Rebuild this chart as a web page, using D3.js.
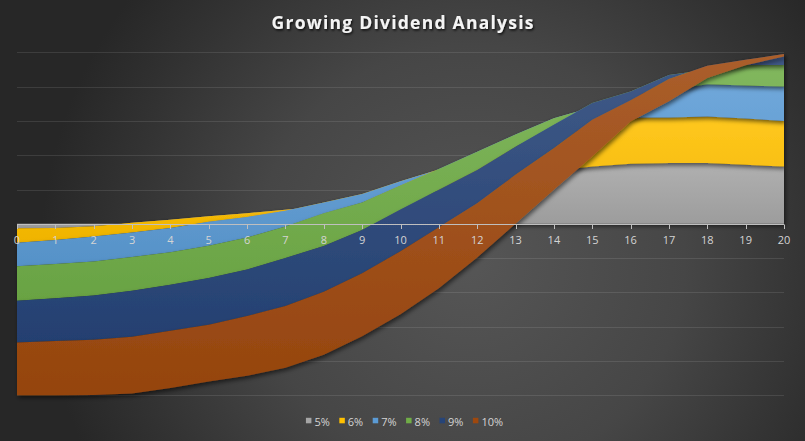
<!DOCTYPE html>
<html>
<head>
<meta charset="utf-8">
<script src="https://cdn.jsdelivr.net/npm/d3@7"></script>
<style>
  html, body { margin: 0; padding: 0; background: #2a2a2a; }
  svg { display: block; }
</style>
</head>
<body>
<svg id="chart" width="805" height="441"></svg>
<script>
// ---------------- DATA ----------------
const years = [0,1,2,3,4,5,6,7,8,9,10,11,12,13,14,15,16,17,18,19,20];
const seriesNames = ["5%","6%","7%","8%","9%","10%"];
const seriesColors = ["#A5A5A5","#FFC000","#5B9BD5","#70AD47","#264478","#9E480E"];

const v5  = [-0.13,-0.12,-0.07,0.03,0.12,0.22,0.31,0.41,0.52,0.65,0.80,0.97,1.15,1.35,1.55,1.67,1.75,1.77,1.77,1.72,1.67];
const v6  = [-0.42,-0.35,-0.30,-0.28,-0.24,-0.16,-0.11,-0.03,0.10,0.22,0.44,0.61,0.75,0.95,1.00,1.18,1.35,1.33,1.36,1.35,1.33];
const v7  = [-0.69,-0.70,-0.73,-0.72,-0.71,-0.70,-0.60,-0.46,-0.31,-0.25,-0.12,0.02,0.20,0.30,0.53,0.55,0.70,0.80,0.94,0.96,1.00];
const v8  = [-1.00,-1.00,-0.99,-0.98,-0.95,-0.94,-0.93,-0.92,-0.96,-0.80,-0.70,-0.61,-0.53,-0.35,-0.19,0.12,0.06,0.44,0.42,0.60,0.63];
const v9  = [-1.22,-1.25,-1.29,-1.34,-1.34,-1.36,-1.36,-1.40,-1.33,-1.26,-1.22,-1.09,-0.97,-0.82,-0.69,-0.49,-0.26,-0.12,0.12,0.15,0.32];
const v10 = [-1.54,-1.58,-1.61,-1.66,-1.67,-1.66,-1.74,-1.80,-1.84,-1.84,-1.84,-1.78,-1.58,-1.43,-1.21,-1.07,-0.62,-0.65,-0.36,-0.16,-0.07];

const title = "Growing Dividend Analysis";
const yDomain = [-5, 5];

// ---------------- CHART ----------------
const W = 805, H = 441;
const svg = d3.select("#chart");
const defs = svg.append("defs");

// background radial gradient
const bg = defs.append("radialGradient").attr("id","bg")
  .attr("gradientUnits","userSpaceOnUse").attr("cx",470).attr("cy",260).attr("r",430);
[[0,"#565656"],[0.5,"#464646"],[0.8,"#333333"],[1,"#272727"]]
  .forEach(([o,c]) => bg.append("stop").attr("offset",o).attr("stop-color",c));
svg.append("rect").attr("width",W).attr("height",H).attr("fill","url(#bg)");

// shadow filters
const sh = defs.append("filter").attr("id","shadow")
  .attr("x","-5%").attr("y","-5%").attr("width","110%").attr("height","115%");
sh.append("feDropShadow").attr("dx",1.5).attr("dy",2.5).attr("stdDeviation",2)
  .attr("flood-color","#000").attr("flood-opacity",0.55);
const tsh = defs.append("filter").attr("id","tshadow")
  .attr("x","-10%").attr("y","-40%").attr("width","120%").attr("height","180%");
tsh.append("feDropShadow").attr("dx",1).attr("dy",1.5).attr("stdDeviation",1.2)
  .attr("flood-color","#000").attr("flood-opacity",0.8);

const x = d3.scaleLinear().domain([years[0], years[years.length-1]]).range([17, 784]);
const y = d3.scaleLinear().domain(yDomain).range([395.3, 52.3]);

// gridlines
svg.append("g").selectAll("line").data(y.ticks(10)).join("line")
  .attr("x1", x.range()[0]).attr("x2", x.range()[1])
  .attr("y1", d => Math.round(y(d)) + 0.5).attr("y2", d => Math.round(y(d)) + 0.5)
  .attr("stroke","rgba(255,255,255,0.10)").attr("stroke-width",1);

// stacked data (Excel-like cumulative stacking)
const valueArrays = [v5, v6, v7, v8, v9, v10];
const rows = years.map((yr, i) => {
  const r = { year: yr };
  seriesNames.forEach((k, s) => r[k] = valueArrays[s][i]);
  return r;
});
const stacked = d3.stack().keys(seriesNames)
  .order(d3.stackOrderNone).offset(d3.stackOffsetNone)(rows);

// gradient fills per series
seriesColors.forEach((c, i) => {
  const g = defs.append("linearGradient").attr("id","grad"+i)
    .attr("x1",0).attr("y1",0).attr("x2",0).attr("y2",1);
  g.append("stop").attr("offset",0).attr("stop-color", d3.interpolateRgb(c,"#ffffff")(0.12));
  g.append("stop").attr("offset",1).attr("stop-color", d3.interpolateRgb(c,"#000000")(0.06));
});

const area = d3.area()
  .x(d => x(d.data.year))
  .y0(d => y(d[0]))
  .y1(d => y(d[1]))
  .curve(d3.curveLinear);

svg.append("g").selectAll("path").data(stacked).join("path")
  .attr("d", area)
  .attr("fill", (d, i) => `url(#grad${i})`)
  .attr("filter","url(#shadow)");

// x axis at zero
const y0 = Math.round(y(0)) + 0.5;
const ax = svg.append("g");
ax.append("line").attr("x1", x.range()[0]).attr("x2", x.range()[1])
  .attr("y1", y0).attr("y2", y0).attr("stroke","#bfbfbf").attr("stroke-width",1);
ax.selectAll("line.tick").data(years).join("line").attr("class","tick")
  .attr("x1", d => Math.round(x(d)) + 0.5).attr("x2", d => Math.round(x(d)) + 0.5)
  .attr("y1", y0).attr("y2", y0 + 4.5)
  .attr("stroke","#bfbfbf").attr("stroke-width",1);
ax.selectAll("text").data(years).join("text")
  .attr("x", d => x(d)).attr("y", y0 + 19)
  .attr("text-anchor","middle")
  .attr("font-family","'Open Sans', 'Noto Sans', sans-serif")
  .attr("font-size", 11)
  .attr("fill","#d4d4d4")
  .text(d => d);

// title
svg.append("text")
  .attr("x", 402.5).attr("y", 29.3)
  .attr("text-anchor","middle")
  .attr("font-family","'Open Sans', 'Noto Sans', sans-serif")
  .attr("font-weight", 700)
  .attr("font-size", 17.5)
  .attr("fill","#f4f4f4")
  .attr("textLength", 262).attr("lengthAdjust","spacing")
  .attr("filter","url(#tshadow)")
  .text(title);

// legend
const lg = svg.append("g");
const items = lg.selectAll("g").data(seriesNames).join("g");
items.append("rect").attr("width",5.5).attr("height",5.5).attr("y",417.8)
  .attr("fill", (d, i) => seriesColors[i]);
items.append("text").attr("y", 425.5)
  .attr("font-family","'Open Sans', 'Noto Sans', sans-serif")
  .attr("font-size", 11).attr("fill","#d4d4d4")
  .text(d => d);
let cx = 0;
const pos = [];
items.each(function(d, i) {
  const tw = d3.select(this).select("text").node().getComputedTextLength();
  pos.push(cx);
  cx += 8.5 + tw + (i < seriesNames.length - 1 ? 9.5 : 0);
});
const start = 404.5 - cx / 2;
items.each(function(d, i) {
  const g = d3.select(this);
  g.select("rect").attr("x", start + pos[i]);
  g.select("text").attr("x", start + pos[i] + 8.5);
});
</script>
</body>
</html>
